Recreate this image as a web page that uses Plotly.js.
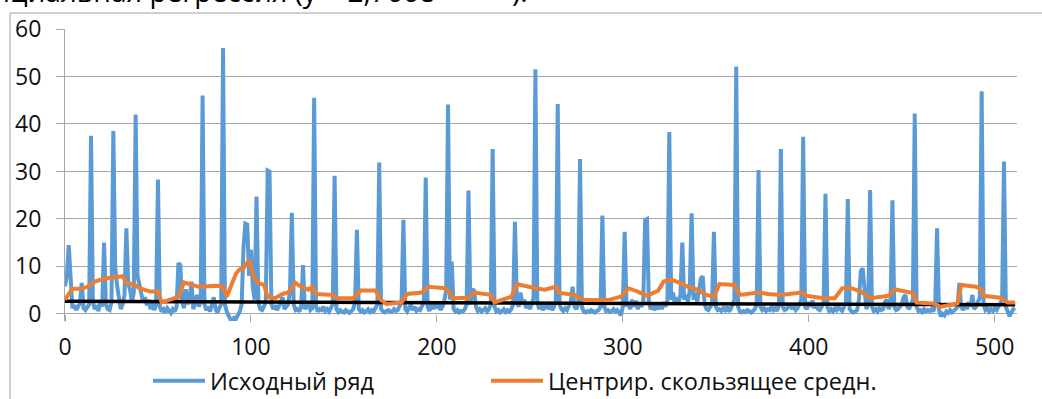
<!DOCTYPE html>
<html><head><meta charset="utf-8">
<script src="https://cdn.plot.ly/plotly-3.0.1.min.js"></script>
<style>html,body{margin:0;padding:0;background:#fff;overflow:hidden}#chart{width:1042px;height:399px}</style>
</head><body><div id="chart"></div>
<script>
// Исходный ряд: values for index 0..511
const rawSeries = [
5.8, 8.0, 14.5, 5.5, 1.2, 1.8, 0.8, 1.5, 2.2, 6.5,
1.2, 0.8, 1.5, 2.0, 37.5, 2.5, 1.0, 1.8, 0.6, 2.8,
1.5, 15.0, 2.0, 1.0, 0.8, 2.5, 38.5, 9.8, 6.0, 3.5,
1.0, 2.0, 4.0, 18.0, 6.5, 5.0, 2.5, 4.5, 42.0, 8.0,
6.0, 4.0, 2.5, 3.5, 1.8, 3.0, 1.0, 2.2, 0.8, 2.0,
28.3, 1.5, 0.5, 1.0, 0.3, 1.2, 0.6, 0.2, 1.0, 0.5,
1.5, 10.7, 10.3, 2.5, 1.2, 5.2, 2.0, 3.0, 6.8, 1.0,
2.5, 4.0, 1.5, 2.8, 46.0, 2.0, 0.8, 1.5, 0.5, 1.8,
3.5, 1.0, 0.3, 1.2, 2.0, 56.0, 2.0, 0.5, -0.5, -1.2,
-1.3, -0.8, -1.0, -0.3, 0.5, 2.0, 14.0, 19.0, 18.8, 8.0,
13.5, 5.5, 3.0, 24.7, 2.5, 1.0, 0.8, 1.5, 2.5, 30.2,
30.0, 2.0, 1.0, 1.8, 0.8, 1.5, 2.5, 3.5, 1.0, 1.5,
2.0, 5.0, 21.3, 2.0, 0.8, 1.0, 0.5, 1.5, 10.3, 1.0,
1.5, 2.0, 0.8, 1.2, 45.5, 1.5, 0.5, 1.0, 0.8, 1.5,
0.6, 1.0, 0.5, 1.2, 2.0, 29.1, 1.0, 0.4, 0.8, 0.5,
0.3, 0.8, 0.5, 0.2, 0.6, 1.0, 2.5, 17.7, 1.0, 0.5,
0.8, 0.3, 0.6, 1.0, 0.4, 0.8, 0.5, 1.2, 2.0, 31.9,
1.0, 0.5, 0.3, 0.6, 0.8, 0.4, 0.5, 1.0, 0.6, 0.8,
1.5, 2.5, 19.8, 1.0, 0.5, 1.2, 2.0, 0.8, 1.5, 0.6,
1.0, 0.8, 1.5, 2.5, 28.7, 1.5, 0.6, 2.0, 1.0, 2.5,
1.2, 2.0, 0.8, 1.5, 2.8, 5.0, 44.1, 3.0, 11.0, 1.0,
0.5, 0.8, 0.3, 0.6, 0.5, 1.0, 2.0, 26.0, 2.0, 4.8,
5.2, 1.5, 0.6, 1.0, 0.5, 0.8, 1.2, 0.5, 1.0, 2.0,
34.7, 1.5, 0.5, 0.8, 0.3, 0.6, 1.0, 0.4, 0.8, 0.5,
1.0, 2.0, 19.4, 2.5, 1.5, 4.5, 2.0, 3.0, 1.2, 2.5,
1.0, 2.0, 3.5, 51.5, 2.5, 1.0, 2.0, 0.8, 1.5, 2.2,
1.0, 1.8, 0.8, 1.5, 3.0, 44.2, 2.0, 1.0, 0.6, 1.2,
0.8, 1.5, 2.5, 5.7, 1.5, 1.0, 2.0, 32.6, 1.5, 0.5,
0.3, 0.6, 0.4, 0.8, 0.5, 0.3, 0.6, 0.8, 1.5, 20.7,
1.5, 0.6, 0.8, 0.4, 0.6, 1.0, 0.5, 0.8, 0.3, -0.3,
1.5, 17.3, 1.5, 2.5, 1.0, 3.0, 1.5, 2.8, 1.0, 2.0,
1.5, 2.5, 19.8, 20.0, 2.5, 1.0, 1.8, 0.8, 1.5, 1.0,
2.0, 1.0, 2.5, 1.5, 3.0, 38.3, 3.0, 4.5, 2.0, 3.5,
2.5, 4.0, 15.0, 3.0, 4.0, 2.5, 5.0, 21.2, 3.0, 4.5,
2.5, 5.0, 7.5, 7.9, 2.0, 1.0, 0.8, 1.5, 2.0, 17.3,
1.5, 0.8, 1.0, 0.6, 1.2, 0.8, 1.5, 0.5, 1.0, 2.0,
3.0, 52.1, 1.5, 0.5, 0.3, 0.6, 0.4, 0.8, 0.5, 0.3,
0.6, 1.0, 2.0, 30.3, 1.5, 0.8, 1.2, 0.6, 1.0, 0.8,
1.5, 0.8, 1.2, 0.6, 2.0, 34.7, 1.5, 0.8, 1.0, 1.5,
2.0, 1.0, 1.5, 0.8, 1.2, 2.0, 3.0, 37.3, 1.5, 1.0,
2.5, 1.5, 2.8, 1.2, 2.0, 1.0, 0.8, 1.5, 2.5, 25.3,
1.5, 0.6, 1.0, 0.5, 1.2, 0.8, 1.5, 1.0, 0.6, 1.5,
2.5, 24.2, 1.0, 0.5, 0.3, 0.5, 0.8, 3.0, 9.0, 9.6,
5.5, 1.0, 2.0, 26.1, 1.5, 0.6, 1.0, 0.5, 1.2, 0.8,
1.0, 2.5, 3.0, 1.0, 2.0, 23.9, 1.5, 0.8, 1.0, 1.5,
2.0, 3.5, 4.0, 1.5, 1.0, 2.0, 3.0, 42.2, 1.5, 0.6,
0.8, 0.4, 1.0, 0.5, 0.8, 0.6, 1.0, 0.5, 2.0, 18.0,
1.0, -0.5, 0.0, -0.3, 0.5, 0.2, 0.8, 0.3, 0.6, 1.0,
1.5, 6.5, 1.5, 0.8, 2.0, 1.0, 2.5, 1.5, 4.0, 1.0,
1.5, 2.5, 3.5, 46.9, 2.0, 0.8, 1.2, 0.5, 1.0, 0.6,
1.2, 0.8, 1.5, 2.0, 3.0, 32.1, 1.5, 0.5, -0.5, 0.3,
1.0, 1.2
];
const rawIndex = rawSeries.map((v, i) => i);

// Центрир. скользящее средн. (vertices)
const maX = [0,4,9,12,16,22,31,33,37,40,46,50,52,57,61,64,69,72,82,85,87,90,92,94,96,99,100,101,104,107,109,113,117,120,124,127,131,133,135,144,146,155,159,167,170,173,181,184,192,195,205,209,217,220,229,231,237,240,243,249,253,258,264,266,274,279,292,299,303,308,313,319,322,326,331,335,340,345,349,352,360,363,373,378,385,396,399,408,414,418,423,428,431,433,439,443,446,451,456,458,467,471,476,480,482,490,493,494,503,507,511];
const maY = [3.0,5.3,5.3,5.7,6.8,7.5,7.9,6.5,6.2,5.4,4.7,4.7,2.4,3.1,3.6,6.6,6.1,5.7,5.9,5.7,3.6,6.5,8.5,9.4,9.6,11.3,10.3,8.2,6.5,6.1,3.6,3.3,4.2,4.5,6.5,5.7,5.1,5.7,4.2,4.0,3.3,3.3,4.9,4.9,2.9,2.1,2.4,4.2,4.5,5.7,5.4,3.3,3.4,4.5,4.0,2.4,3.1,3.6,6.3,5.7,5.4,5.1,5.7,4.4,4.0,2.9,2.9,3.6,5.4,4.7,3.8,4.9,6.8,7.2,6.5,5.7,5.1,4.0,3.6,6.3,6.1,4.0,4.5,4.2,4.0,4.5,3.8,3.3,3.3,5.4,5.4,4.7,4.0,3.3,3.6,3.8,5.2,4.7,4.4,2.4,2.2,1.5,1.9,2.2,6.1,5.7,5.1,3.8,3.4,2.4,2.4];

// Exponential trend
const trendX = [0, 100, 200, 300, 400, 511];
const trendY = [2.65, 2.5, 2.3, 2.15, 2.0, 1.9];

const xTicks = [0, 100, 200, 300, 400, 500];
const yTicks = [0, 10, 20, 30, 40, 50, 60];

const FONT = 'Open Sans, Liberation Sans, sans-serif';
const GRID = '#A6A6A6';

const traces = [
  {x: rawIndex, y: rawSeries, type: 'scatter', mode: 'lines', name: 'Исходный ряд',
   legend: 'legend', line: {color: '#5B9BD5', width: 4}},
  {x: trendX, y: trendY, type: 'scatter', mode: 'lines', name: 'Экспоненциальная',
   showlegend: false, line: {color: '#000000', width: 3.5}},
  {x: maX, y: maY, type: 'scatter', mode: 'lines', name: 'Центрир. скользящее средн.',
   legend: 'legend2', line: {color: '#ED7D31', width: 4}}
];

const legendStyle = (x) => ({orientation: 'h', x: x, xanchor: 'left', y: -0.205, yanchor: 'middle',
  itemwidth: 52,
  font: {family: FONT, size: 23.5, color: '#111'}, bgcolor: 'rgba(0,0,0,0)'});

const layout = {
  width: 1042, height: 399,
  margin: {l: 65, r: 25, t: 29, b: 78, autoexpand: false},
  paper_bgcolor: '#fff', plot_bgcolor: '#fff',
  font: {family: FONT, color: '#111', size: 22},
  showlegend: true,
  legend: legendStyle((148 - 65) / 952),
  legend2: legendStyle((486 - 65) / 952),
  xaxis: {range: [0, 512], tickvals: xTicks, ticktext: xTicks.map(String),
          showgrid: false, zeroline: false, showline: false,
          ticks: 'outside', ticklen: 7, tickcolor: GRID, tickwidth: 1,
          anchor: 'free', position: 1.5/61.5, ticklabelstandoff: 6,
          tickfont: {family: FONT, size: 23, color: '#111'}},
  yaxis: {range: [-1.5, 60], tickvals: yTicks, ticktext: yTicks.map(String),
          showgrid: true, gridcolor: GRID, gridwidth: 1, zeroline: false,
          showline: true, linecolor: GRID, linewidth: 1,
          ticks: 'outside', ticklen: 8, tickcolor: GRID, ticklabelstandoff: 10,
          tickfont: {family: FONT, size: 23, color: '#111'}},
  shapes: [
    {type: 'line', xref: 'paper', yref: 'paper', x0: (10-65)/952, x1: (10-65)/952, y0: 1 + (29-13)/292, y1: -0.3, line: {color: '#A0A0A0', width: 1}},
    {type: 'line', xref: 'paper', yref: 'paper', x0: (10-65)/952, x1: 1.1, y0: 1 + (29-13)/292, y1: 1 + (29-13)/292, line: {color: '#A0A0A0', width: 1}}
  ],
  annotations: [
    {text: 'Экспоненциальная регрессия (y = 2,766e<sup>-0,0007x</sup>).', xref: 'paper', yref: 'paper',
     x: (530-65)/952, xanchor: 'right', y: 1 + (29-12)/292, yanchor: 'bottom', showarrow: false,
     font: {family: FONT, size: 28, color: '#000'}}
  ]
};

Plotly.newPlot('chart', traces, layout, {displayModeBar: false, staticPlot: true});
</script>
</body></html>
